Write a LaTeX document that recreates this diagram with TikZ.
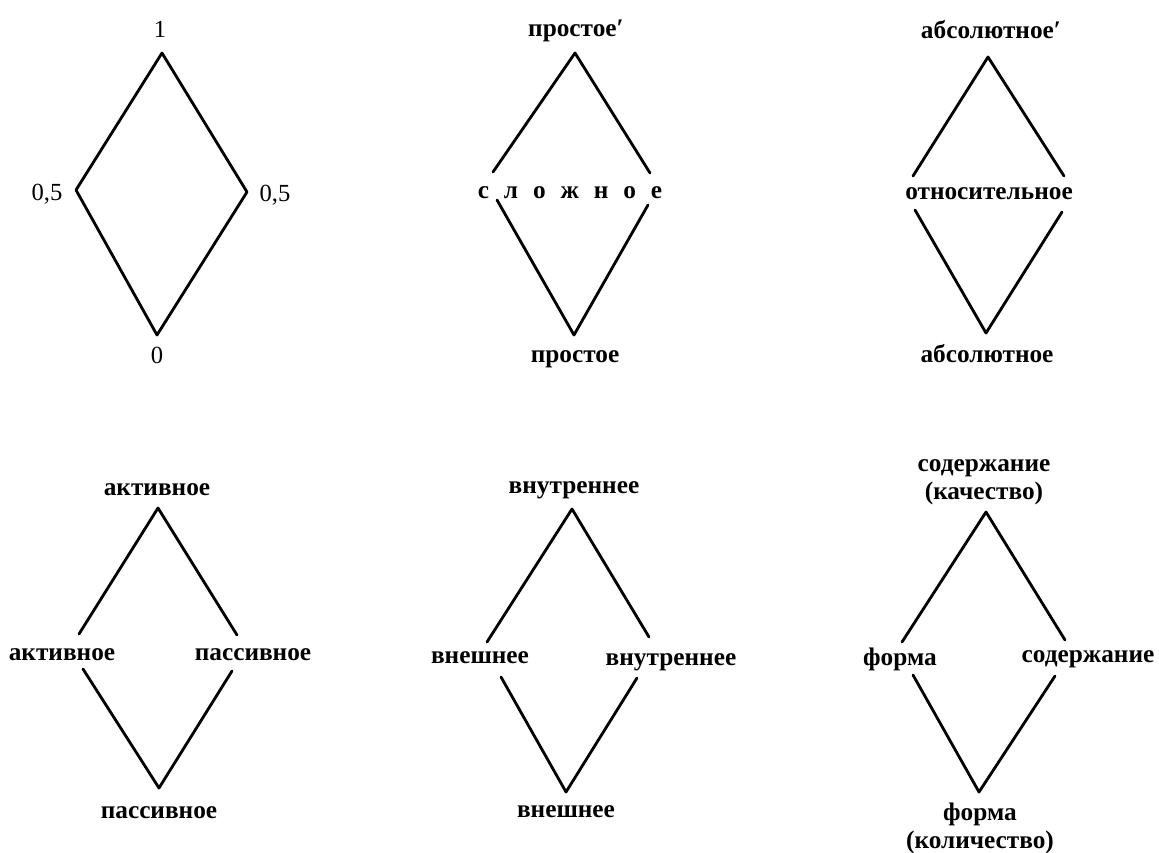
\documentclass[tikz,border=0pt]{standalone}
\usepackage{fontspec}
\setmainfont{Liberation Serif}
\usetikzlibrary{positioning}
\newcommand{\lsp}{\hspace{8.5pt}}

\begin{document}
\begin{tikzpicture}[x=0.02cm,y=-0.02cm,
	edge/.style={line width=1.6pt,line cap=round,line join=round},
	lbl/.style={font=\fontsize{14.4}{15.4}\selectfont\bfseries,inner sep=0pt,anchor=base,align=center},
	num/.style={font=\fontsize{14}{15.3}\selectfont,inner sep=0pt,anchor=base}]
	\useasboundingbox (0,0) rectangle (1159,852);
	% 0 -- 0,5 -- 1
	\coordinate (t1) at (162,53);
	\coordinate (l1) at (76,190);
	\coordinate (r1) at (247,192);
	\coordinate (b1) at (157,335);
	\draw[edge] (t1) -- (l1) -- (b1) -- (r1) -- cycle;
	\node[num] (n1t) at (160,37) {1};
	\node[num] (n1l) at (47,200) {0,5};
	\node[num] (n1r) at (275,201) {0,5};
	\node[num] (n1b) at (157,363) {0};
	% простое
	\coordinate (t2) at (575,53);
	\coordinate (l2u) at (493,172);
	\coordinate (r2u) at (650,173);
	\coordinate (l2d) at (497,200);
	\coordinate (r2d) at (648,205);
	\coordinate (b2) at (574,335);
	\draw[edge] (l2u) -- (t2) -- (r2u);
	\draw[edge] (l2d) -- (b2) -- (r2d);
	\node[lbl] (n2t) at (576,36) {простое′};
	\node[lbl] (n2m) at (570,198) {с\lsp л\lsp о\lsp ж\lsp н\lsp о\lsp е};
	\node[lbl] (n2b) at (575,362) {простое};
	% абсолютное
	\coordinate (t3) at (988,57);
	\coordinate (l3u) at (913,176);
	\coordinate (r3u) at (1064,176);
	\coordinate (l3d) at (915,210);
	\coordinate (r3d) at (1062,212);
	\coordinate (b3) at (986,333);
	\draw[edge] (l3u) -- (t3) -- (r3u);
	\draw[edge] (l3d) -- (b3) -- (r3d);
	\node[lbl] (n3t) at (991,38) {абсолютное′};
	\node[lbl] (n3m) at (989,199) {относительное};
	\node[lbl] (n3b) at (987,362) {абсолютное};
	% активное / пассивное
	\coordinate (t4) at (158,508);
	\coordinate (l4u) at (79,634);
	\coordinate (r4u) at (237,635);
	\coordinate (l4d) at (83,669);
	\coordinate (r4d) at (232,671);
	\coordinate (b4) at (159,788);
	\draw[edge] (l4u) -- (t4) -- (r4u);
	\draw[edge] (l4d) -- (b4) -- (r4d);
	\node[lbl] (n4t) at (157,495) {активное};
	\node[lbl] (n4l) at (62,660) {активное};
	\node[lbl] (n4r) at (253,660) {пассивное};
	\node[lbl] (n4b) at (159,818) {пассивное};
	% внутреннее / внешнее
	\coordinate (t5) at (572,509);
	\coordinate (l5u) at (487,642);
	\coordinate (r5u) at (649,637);
	\coordinate (l5d) at (501,677);
	\coordinate (r5d) at (637,678);
	\coordinate (b5) at (566,792);
	\draw[edge] (l5u) -- (t5) -- (r5u);
	\draw[edge] (l5d) -- (b5) -- (r5d);
	\node[lbl] (n5t) at (574,493) {внутреннее};
	\node[lbl] (n5l) at (480,663) {внешнее};
	\node[lbl] (n5r) at (671,665) {внутреннее};
	\node[lbl] (n5b) at (566,817) {внешнее};
	% содержание / форма
	\coordinate (t6) at (986,512);
	\coordinate (l6u) at (902,642);
	\coordinate (r6u) at (1065,640);
	\coordinate (l6d) at (913,675);
	\coordinate (r6d) at (1055,676);
	\coordinate (b6) at (979,792);
	\draw[edge] (l6u) -- (t6) -- (r6u);
	\draw[edge] (l6d) -- (b6) -- (r6d);
	\node[lbl] (n6t) at (984,499) {содержание\\(качество)};
	\node[lbl] (n6l) at (900,665) {форма};
	\node[lbl] (n6r) at (1088,662) {содержание};
	\node[lbl] (n6b) at (980,848) {форма\\(количество)};
\end{tikzpicture}
\end{document}
